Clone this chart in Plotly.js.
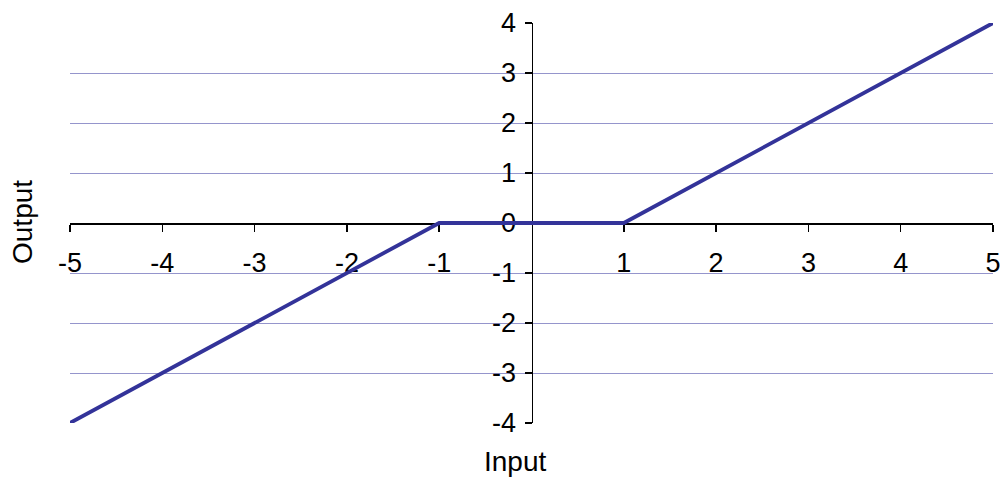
<!DOCTYPE html>
<html>
<head>
<meta charset="utf-8">
<script src="https://cdn.plot.ly/plotly-3.0.1.min.js"></script>
<style>
  html, body { margin: 0; padding: 0; background: #fff; }
  #chart { width: 1002px; height: 482px; }
</style>
</head>
<body>
<div id="chart"></div>
<script>
var inputValues = [-5, -1, 1, 5];
var outputValues = [-4, 0, 0, 4];
var xTicks = [-5, -4, -3, -2, -1, 1, 2, 3, 4, 5];
var yTicks = [-4, -3, -2, -1, 0, 1, 2, 3, 4];

var data = [{
  x: inputValues,
  y: outputValues,
  mode: "lines",
  line: {color: "#333399", width: 3.8},
  hoverinfo: "x+y"
}];

var font = {family: "Liberation Sans, Arial, sans-serif", size: 27, color: "#000"};

var layout = {
  width: 1002,
  height: 482,
  margin: {l: 70, r: 9, t: 23, b: 59},
  paper_bgcolor: "#fff",
  plot_bgcolor: "#fff",
  showlegend: false,
  font: font,
  xaxis: {
    range: [-5, 5],
    anchor: "free",
    position: 0.5,
    tickvals: xTicks,
    ticktext: xTicks.map(String),
    ticks: "outside",
    ticklen: 7,
    tickwidth: 1.5,
    tickcolor: "#000",
    ticklabelstandoff: 8,
    showline: true,
    linecolor: "#000",
    linewidth: 1.5,
    showgrid: false,
    zeroline: false,
    layer: "below traces",
    tickfont: font,
    fixedrange: true
  },
  yaxis: {
    range: [-4, 4],
    anchor: "free",
    position: 0.5,
    tickvals: yTicks,
    ticktext: yTicks.map(String),
    ticks: "outside",
    ticklen: 7,
    tickwidth: 1.5,
    tickcolor: "#000",
    ticklabelstandoff: 3,
    showline: true,
    linecolor: "#000",
    linewidth: 1.5,
    showgrid: true,
    gridcolor: "#9595cc",
    gridwidth: 1,
    zeroline: false,
    layer: "below traces",
    tickfont: font,
    fixedrange: true
  },
  annotations: [
    {
      text: "Input",
      xref: "paper", yref: "paper",
      x: 0.482, y: -0.0975,
      xanchor: "center", yanchor: "middle",
      showarrow: false,
      font: {family: font.family, size: 28, color: "#000"}
    },
    {
      text: "Output",
      xref: "paper", yref: "paper",
      x: -0.052, y: 0.5025,
      xanchor: "center", yanchor: "middle",
      textangle: -90,
      showarrow: false,
      font: {family: font.family, size: 28, color: "#000"}
    }
  ]
};

Plotly.newPlot("chart", data, layout, {displayModeBar: false, staticPlot: true});
</script>
</body>
</html>
